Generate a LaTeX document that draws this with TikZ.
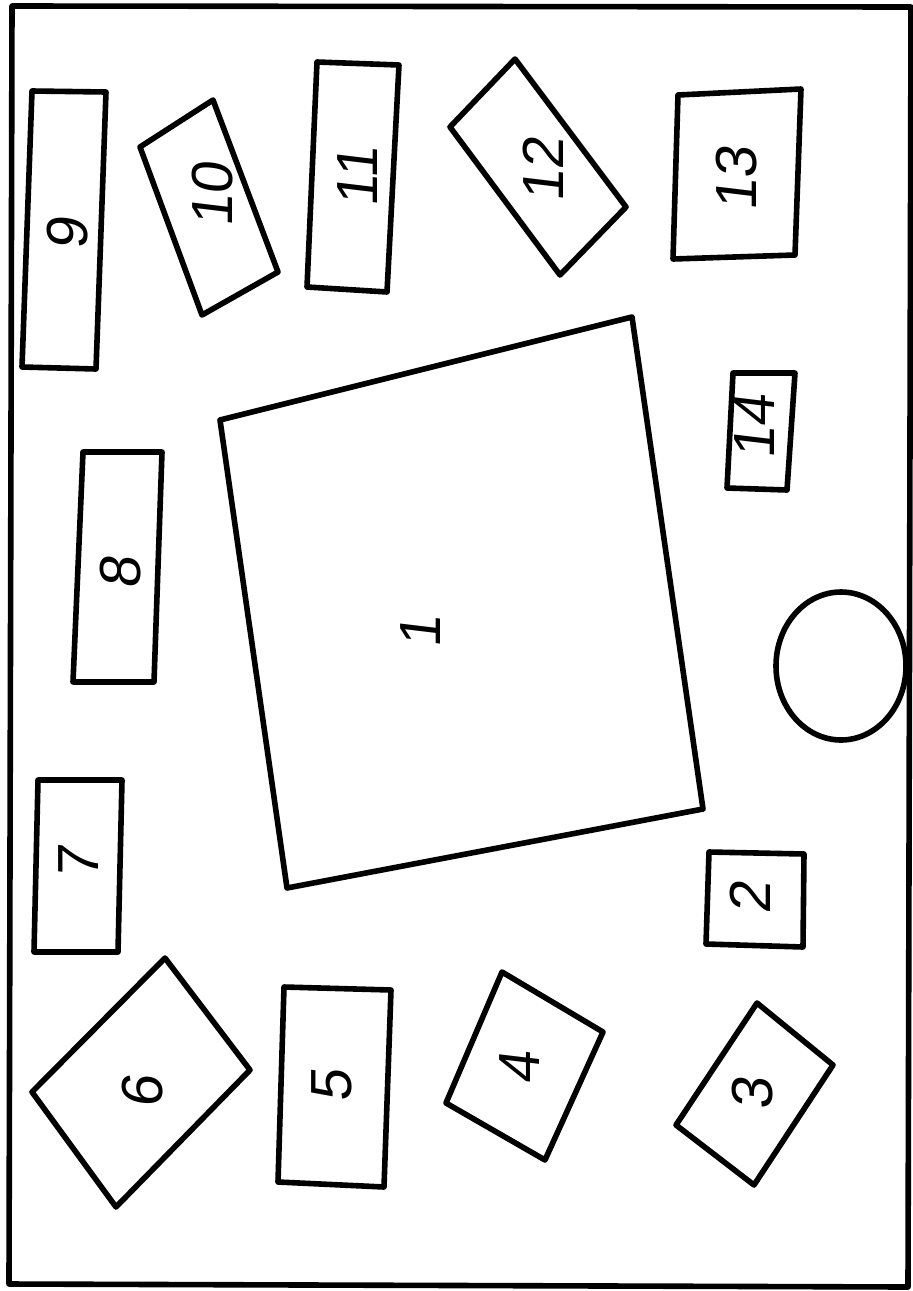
\documentclass[tikz,border=0pt]{standalone}
\usepackage{fontspec}
\usepackage{tikz}
\newfontfamily\numfont[FakeSlant=0.12]{Liberation Sans}

\begin{document}
\begin{tikzpicture}[
  x=0.5pt, y=-0.5pt,
  blk/.style={draw, line width=2.8pt, line join=round},
  num/.style={font=\fontsize{29}{29}\selectfont\numfont, rotate=90, inner sep=0pt}
]
\useasboundingbox (0,0) rectangle (913,1291);

% outer frame
\draw[blk] (12,6) -- (911,7) -- (908,1287) -- (9,1284) -- cycle;

% the big one in the middle
\draw[blk] (220,420) -- (632,317) -- (703,809) -- (287,888) -- cycle;
\node[num] (n1) at (421,632) {1};

% right hand row
\draw[blk] (709,852) -- (804,854) -- (803,947) -- (706,944) -- cycle;
\node[num] (n2) at (750,898) {2};
\draw[blk] (757,1003) -- (833,1065) -- (754,1185) -- (676,1125) -- cycle;
\node[num] (n3) at (753,1094) {3};
\draw[blk] (733,373) -- (795,373) -- (787,490) -- (727,488) -- cycle;
\node[num] (n14) at (755,427) {14};
\draw[blk] (841,666) ellipse [x radius=65, y radius=74];

% bottom
\draw[blk] (502,972) -- (603,1032) -- (545,1160) -- (446,1103) -- cycle;
\node[num] (n4) at (520,1068) {4};
\draw[blk] (284,987) -- (391,990) -- (384,1187) -- (278,1182) -- cycle;
\node[num] (n5) at (332,1086) {5};
\draw[blk] (165,958) -- (250,1070) -- (116,1207) -- (32,1092) -- cycle;
\node[num] (n6) at (143,1092) {6};

% left hand column
\draw[blk] (38,780) -- (122,780) -- (118,952) -- (34,952) -- cycle;
\node[num] (n7) at (79,863) {7};
\draw[blk] (83,452) -- (162,452) -- (154,682) -- (73,682) -- cycle;
\node[num] (n8) at (121,573) {8};
\draw[blk] (32,91) -- (106,92) -- (96,369) -- (22,367) -- cycle;
\node[num] (n9) at (68,234) {9};

% top
\draw[blk] (213,100) -- (278,272) -- (202,315) -- (140,147) -- cycle;
\node[num] (n10) at (213,195) {10};
\draw[blk] (317,62) -- (399,65) -- (387,292) -- (307,287) -- cycle;
\node[num] (n11) at (358,177) {11};
\draw[blk] (515,59) -- (626,207) -- (560,275) -- (450,127) -- cycle;
\node[num] (n12) at (543,170) {12};
\draw[blk] (678,95) -- (801,89) -- (795,255) -- (673,259) -- cycle;
\node[num] (n13) at (737,179) {13};
\end{tikzpicture}
\end{document}
